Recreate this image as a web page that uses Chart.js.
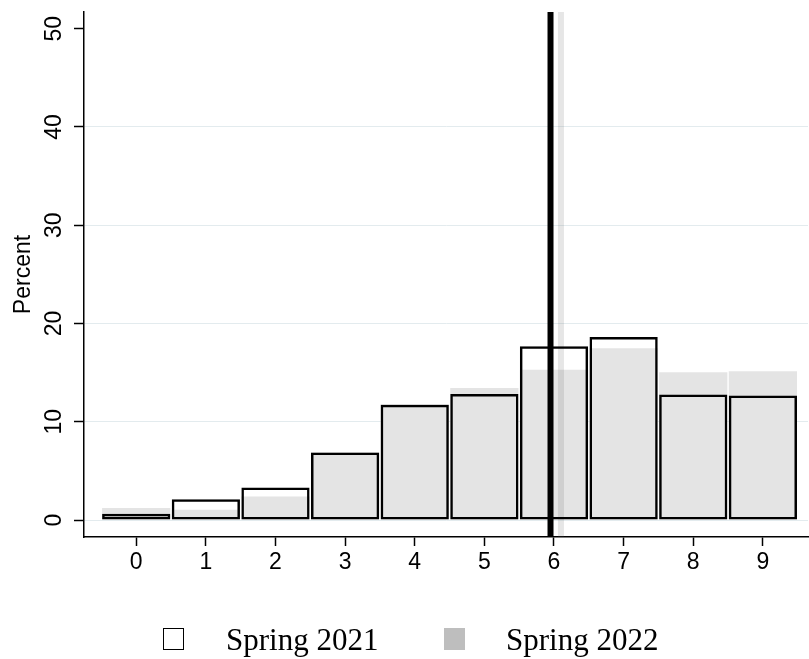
<!DOCTYPE html>
<html><head><meta charset="utf-8">
<script src="https://cdn.jsdelivr.net/npm/chart.js@4/dist/chart.umd.min.js"></script>
<style>html,body{margin:0;padding:0;background:#fff}canvas{display:block}</style>
</head><body>
<canvas id="c" width="809" height="659"></canvas>
<script>
// ---- data ----
const categories = [0, 1, 2, 3, 4, 5, 6, 7, 8, 9];
const spring2021 = [0.64, 2.1, 3.3, 6.88, 11.74, 12.83, 17.68, 18.63, 12.76, 12.66];
const spring2022 = [1.22, 1.05, 2.4, 6.9, 11.8, 13.44, 15.3, 17.47, 15.03, 15.13];
const yTicks = [0, 10, 20, 30, 40, 50];
const xTicks = [0, 1, 2, 3, 4, 5, 6, 7, 8, 9];
const mean2021 = 5.95;
const mean2022 = 6.10;
const seriesNames = ['Spring 2021', 'Spring 2022'];
const yAxisTitle = 'Percent';
const yRange = [-1.73, 51.7];
const xRange = [-0.75, 9.648];

// ---- chart ----
const sans = '"Liberation Sans", Arial, sans-serif';
const barData = vals => categories.map((c, i) => ({ x: c, y: vals[i] }));
const vline = v => [{ x: v, y: yRange[0] }, { x: v, y: yRange[1] }];

const legendPlugin = {
  id: 'legendBelow',
  afterDraw(chart) {
    const ctx = chart.ctx;
    ctx.save();
    ctx.strokeStyle = '#000';
    ctx.lineWidth = 1;
    ctx.strokeRect(163.5, 628.5, 20, 21);
    ctx.fillStyle = '#bebebe';
    ctx.fillRect(444, 628, 21, 22);
    ctx.fillStyle = '#000';
    ctx.font = '31px "Liberation Serif", "Times New Roman", serif';
    ctx.textBaseline = 'alphabetic';
    ctx.textAlign = 'left';
    ctx.fillText(seriesNames[0], 226, 650);
    ctx.fillText(seriesNames[1], 506, 650);
    ctx.restore();
  }
};

new Chart(document.getElementById('c'), {
  type: 'bar',
  data: {
    datasets: [
      { type: 'line', label: 'mean ' + seriesNames[0], data: vline(mean2021), borderColor: '#000', borderWidth: 6, pointRadius: 0, order: 0 },
      { type: 'bar', label: seriesNames[0], data: barData(spring2021), backgroundColor: 'rgba(0,0,0,0)', borderColor: '#000', borderWidth: 2.5, borderSkipped: false, grouped: false, barPercentage: 0.98, categoryPercentage: 1, order: 1 },
      { type: 'line', label: 'mean ' + seriesNames[1], data: vline(mean2022), borderColor: 'rgba(88,88,88,0.15)', borderWidth: 6, pointRadius: 0, order: 2 },
      { type: 'bar', label: seriesNames[1], data: barData(spring2022), backgroundColor: '#e4e4e4', borderWidth: 0, grouped: false, barPercentage: 0.98, categoryPercentage: 1, order: 3 }
    ]
  },
  options: {
    responsive: false,
    animation: false,
    devicePixelRatio: 1,
    layout: { padding: { top: 12, right: 1, left: 0, bottom: 0 } },
    plugins: { legend: { display: false }, tooltip: { enabled: false } },
    scales: {
      x: {
        type: 'linear', min: xRange[0], max: xRange[1], offset: false,
        afterBuildTicks: s => { s.ticks = xTicks.map(v => ({ value: v })); },
        afterFit: s => { s.height = 122; s.paddingLeft = 0; s.paddingRight = 0; },
        grid: { drawOnChartArea: false, drawTicks: true, tickLength: 9, tickColor: '#000', tickWidth: 1.5, offset: false },
        border: { display: true, color: '#000', width: 1.5 },
        ticks: { color: '#000', font: { family: sans, size: 23 }, padding: 3, maxRotation: 0, minRotation: 0 }
      },
      y: {
        min: yRange[0], max: yRange[1],
        afterBuildTicks: s => { s.ticks = yTicks.map(v => ({ value: v })); },
        afterFit: s => { s.width = 84; s.paddingTop = 0; s.paddingBottom = 0; },
        grid: {
          color: c => (c.tick && c.tick.value === 50) ? 'rgba(0,0,0,0)' : '#e3ebee',
          lineWidth: 1, tickLength: 10, tickColor: '#000', tickWidth: 1.5
        },
        border: { display: true, color: '#000', width: 1.5 },
        ticks: { color: '#000', font: { family: sans, size: 23 }, minRotation: 90, maxRotation: 90, crossAlign: 'center', padding: 7 },
        title: { display: true, text: yAxisTitle, color: '#000', font: { family: sans, size: 23 }, padding: { top: 10, bottom: 0 } }
      }
    }
  },
  plugins: [legendPlugin]
});
</script>
</body></html>
